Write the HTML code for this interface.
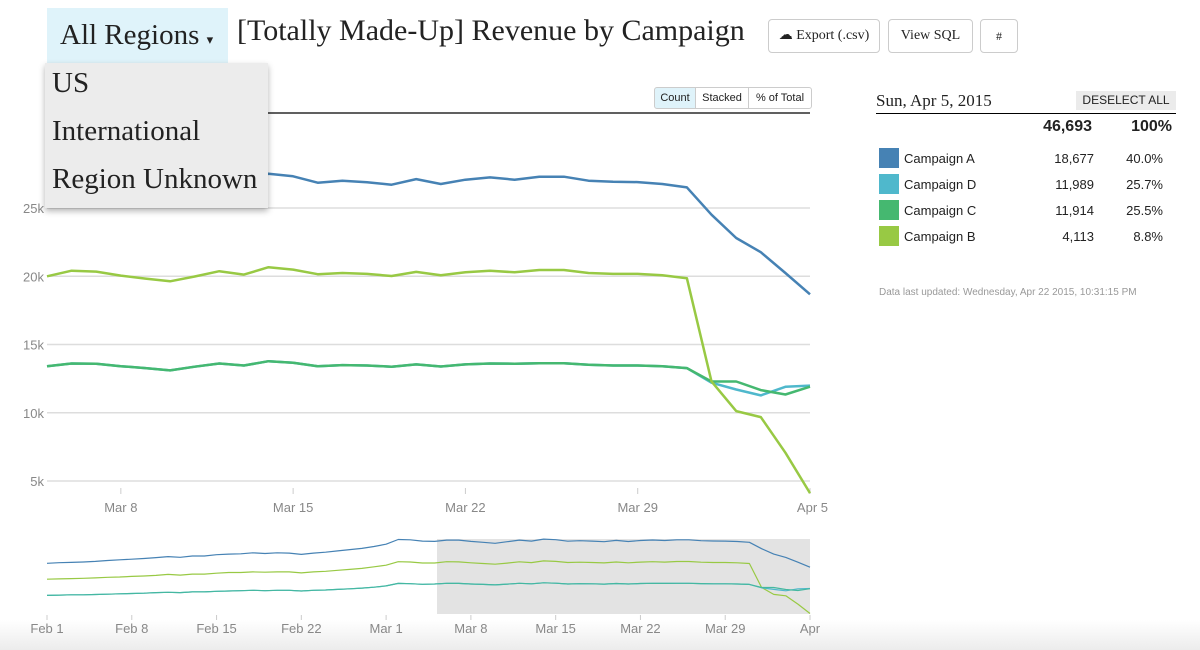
<!DOCTYPE html>
<html><head><meta charset="utf-8"><style>
body{margin:0;width:1200px;height:650px;overflow:hidden;background:#fff;font-family:"Liberation Sans",sans-serif;position:relative}
.abs{position:absolute}
.serif{font-family:"Liberation Serif",serif}
.btn{position:absolute;border:1px solid #ccc;border-radius:4px;background:#fff;font-family:"Liberation Serif",serif;font-size:14px;color:#222;text-align:center;line-height:32px;height:32px;top:19px}
.tog{position:absolute;top:87px;height:20px;line-height:20px;font-size:11px;color:#222;border:1px solid #ccc;text-align:center;background:#fff}
.row{position:absolute;left:879px;width:290px;height:22px;font-size:13px;color:#222}
.sw{position:absolute;left:0;top:0;width:20px;height:20px}
.nm{position:absolute;left:25px;top:3px}
.v{position:absolute;right:75px;top:3px}
.p{position:absolute;right:6px;top:3px}
</style></head><body>
<svg class="abs" style="left:0;top:0" width="1200" height="650">
<defs><linearGradient id="bg" x1="0" y1="0" x2="0" y2="1"><stop offset="0" stop-color="#fff"/><stop offset="1" stop-color="#ececec"/></linearGradient></defs>
<rect x="0" y="620" width="1200" height="30" fill="url(#bg)"/>
<line x1="47" y1="113" x2="810" y2="113" stroke="#000" stroke-width="1.2"/>
<g id="grid"></g><g id="main"></g>
<rect x="437" y="539" width="373" height="75" fill="#e3e3e3"/>
<g id="mini"></g><g id="minix"></g>
</svg>

<div class="abs serif" style="left:47px;top:8px;width:181px;height:55px;background:#dff3fa;font-size:29px;line-height:55px;text-indent:13px;color:#222">All Regions <span style="font-size:13px">▾</span></div>
<div class="abs serif" style="left:237px;top:14px;font-size:30px;color:#222">[Totally Made-Up] Revenue by Campaign</div>
<div class="btn" style="left:768px;width:110px">☁ Export (.csv)</div>
<div class="btn" style="left:888px;width:83px">View SQL</div>
<div class="btn" style="left:980px;width:36px;font-size:12px">#</div>

<div class="tog" style="left:654px;width:40px;background:#dff3fa;border-radius:3px 0 0 3px">Count</div>
<div class="tog" style="left:695px;width:52px">Stacked</div>
<div class="tog" style="left:748px;width:62px;border-radius:0 3px 3px 0">% of Total</div>

<div class="abs serif" style="left:45px;top:63px;width:223px;height:145px;background:#ececec;box-shadow:0 3px 6px rgba(0,0,0,.3);font-size:29px;color:#222">
<div class="abs" style="left:7px;top:4px">US</div>
<div class="abs" style="left:7px;top:52px">International</div>
<div class="abs" style="left:7px;top:100px">Region Unknown</div>
</div>

<div class="abs serif" style="left:876px;top:91px;font-size:17px;color:#222">Sun, Apr 5, 2015</div>
<div class="abs" style="left:1076px;top:91px;width:100px;height:19px;background:#ebebeb;font-size:12px;line-height:19px;text-align:center;color:#222">DESELECT ALL</div>
<div class="abs" style="left:876px;top:113px;width:300px;height:1px;background:#000"></div>
<div class="abs" style="left:1000px;top:118px;width:92px;text-align:right;font-weight:bold;font-size:16px;color:#222">46,693</div>
<div class="abs" style="left:1100px;top:118px;width:72px;text-align:right;font-weight:bold;font-size:16px;color:#222">100%</div>
<div class="row" style="top:148px"><div class="sw" style="background:#4682b4"></div><span class="nm">Campaign A</span><span class="v">18,677</span><span class="p">40.0%</span></div>
<div class="row" style="top:174px"><div class="sw" style="background:#4fb8cc"></div><span class="nm">Campaign D</span><span class="v">11,989</span><span class="p">25.7%</span></div>
<div class="row" style="top:200px"><div class="sw" style="background:#45b870"></div><span class="nm">Campaign C</span><span class="v">11,914</span><span class="p">25.5%</span></div>
<div class="row" style="top:226px"><div class="sw" style="background:#98c944"></div><span class="nm">Campaign B</span><span class="v">4,113</span><span class="p">8.8%</span></div>
<div class="abs" style="left:879px;top:287px;font-size:10px;color:#999">Data last updated: Wednesday, Apr 22 2015, 10:31:15 PM</div>

<script>
// main chart: Mar 5 .. Apr 5 (daily)
const seriesA=[26.8,27.2,27.2,26.8,26.5,26.2,26.7,27.2,26.9,27.51,27.32,26.85,27.0,26.88,26.71,27.12,26.76,27.07,27.24,27.07,27.29,27.29,27.0,26.93,26.9,26.76,26.51,24.51,22.8,21.76,20.24,18.68];
const seriesB=[20.0,20.41,20.34,20.05,19.83,19.63,19.98,20.37,20.12,20.66,20.49,20.15,20.24,20.17,20.02,20.32,20.07,20.29,20.41,20.29,20.46,20.46,20.24,20.17,20.17,20.07,19.85,12.3,10.12,9.68,7.07,4.11];
const seriesC=[13.41,13.61,13.59,13.41,13.27,13.1,13.37,13.61,13.46,13.78,13.66,13.41,13.49,13.46,13.37,13.54,13.39,13.54,13.61,13.59,13.63,13.63,13.51,13.46,13.46,13.41,13.27,12.29,12.29,11.66,11.34,11.91];
const seriesD=[13.41,13.61,13.59,13.41,13.27,13.1,13.37,13.61,13.46,13.78,13.66,13.41,13.49,13.46,13.37,13.54,13.39,13.54,13.61,13.59,13.63,13.63,13.51,13.46,13.46,13.41,13.27,12.2,11.7,11.27,11.9,11.99];
// Feb 1 .. Mar 4 (overview only)
const earlyA=[19.9,20.1,20.2,20.3,20.5,20.8,21.0,21.2,21.4,21.7,22.0,21.8,22.2,22.2,22.6,22.8,22.9,23.2,23.0,23.2,23.1,22.7,23.1,23.4,23.8,24.2,24.6,25.2,25.9,27.4,27.3,26.9];
const earlyB=[14.9,15.0,15.1,15.2,15.3,15.5,15.6,15.8,15.9,16.1,16.4,16.2,16.5,16.5,16.8,17.0,17.0,17.2,17.1,17.2,17.2,16.9,17.2,17.4,17.7,18.0,18.3,18.8,19.3,20.4,20.3,20.0];
const earlyC=[9.8,9.9,10.0,10.0,10.1,10.2,10.3,10.4,10.5,10.7,10.8,10.7,10.9,10.9,11.1,11.2,11.3,11.4,11.3,11.4,11.4,11.2,11.4,11.5,11.7,11.9,12.1,12.4,12.8,13.6,13.5,13.3];
const yTicks=[5,10,15,20,25];
const xTickLabels=["Mar 8","Mar 15","Mar 22","Mar 29","Apr 5"];
const xTickDays=[3,10,17,24,31];
const miniTickLabels=["Feb 1","Feb 8","Feb 15","Feb 22","Mar 1","Mar 8","Mar 15","Mar 22","Mar 29","Apr"];
const miniTickDays=[0,7,14,21,28,35,42,49,56,63];

const NS="http://www.w3.org/2000/svg";
const xs=d=>47+d*(763/31), ys=v=>481-(v-5)*13.65;
const mx=d=>47+d*(763/63), my=v=>626.6-v*3.18;
function mk(p,t,a){const e=document.createElementNS(NS,t);for(const k in a)e.setAttribute(k,a[k]);document.getElementById(p).appendChild(e);return e;}
yTicks.forEach(v=>{
 const l=mk('grid','line',{x1:47,x2:810,y1:ys(v),y2:ys(v),stroke:'#ddd','stroke-width':1.5});
 
 
 const t=mk('grid','text',{x:44,y:ys(v)+5,'text-anchor':'end','font-size':13,fill:'#888','font-family':'Liberation Sans'});
 t.textContent=v+'k';
 
 
});
xTickDays.forEach((d,i)=>{
 mk('grid','line',{x1:xs(d),x2:xs(d),y1:488,y2:494,stroke:'#ccc'});
 const t=mk('grid','text',{x:xs(d),y:512,'text-anchor':i==4?'end':'middle','font-size':13,fill:'#888','font-family':'Liberation Sans'});
 if(i==4)t.setAttribute('x',828);
 t.textContent=xTickLabels[i];
 
 
});
function line(g,data,fx,fy,off,col,w,name){
 const p=mk(g,'path',{d:data.map((v,i)=>(i?'L':'M')+fx(i+off).toFixed(1)+','+fy(v).toFixed(1)).join(''),fill:'none',stroke:col,'stroke-width':w,'stroke-linejoin':'round'});
 
 
}
line('main',seriesD,xs,ys,0,'#4fb8cc',2.5,'line-campaign-d');
line('main',seriesC,xs,ys,0,'#45b870',2.5,'line-campaign-c');
line('main',seriesB,xs,ys,0,'#98c944',2.5,'line-campaign-b');
line('main',seriesA,xs,ys,0,'#4682b4',2.5,'line-campaign-a');
line('mini',earlyA.concat(seriesA),mx,my,0,'#4682b4',1.2,'overview-line-a');
line('mini',earlyB.concat(seriesB),mx,my,0,'#98c944',1.2,'overview-line-b');
line('mini',earlyC.concat(seriesD),mx,my,0,'#4fb8cc',1.2,'overview-line-d');
line('mini',earlyC.concat(seriesC),mx,my,0,'#45b8a0',1.2,'overview-line-c');
miniTickDays.forEach((d,i)=>{
 mk('minix','line',{x1:mx(d),x2:mx(d),y1:615,y2:620,stroke:'#ccc'});
 const t=mk('minix','text',{x:mx(d),y:633,'text-anchor':'middle','font-size':13,fill:'#888','font-family':'Liberation Sans'});
 t.textContent=miniTickLabels[i];
 
 
});
</script>
</body></html>
